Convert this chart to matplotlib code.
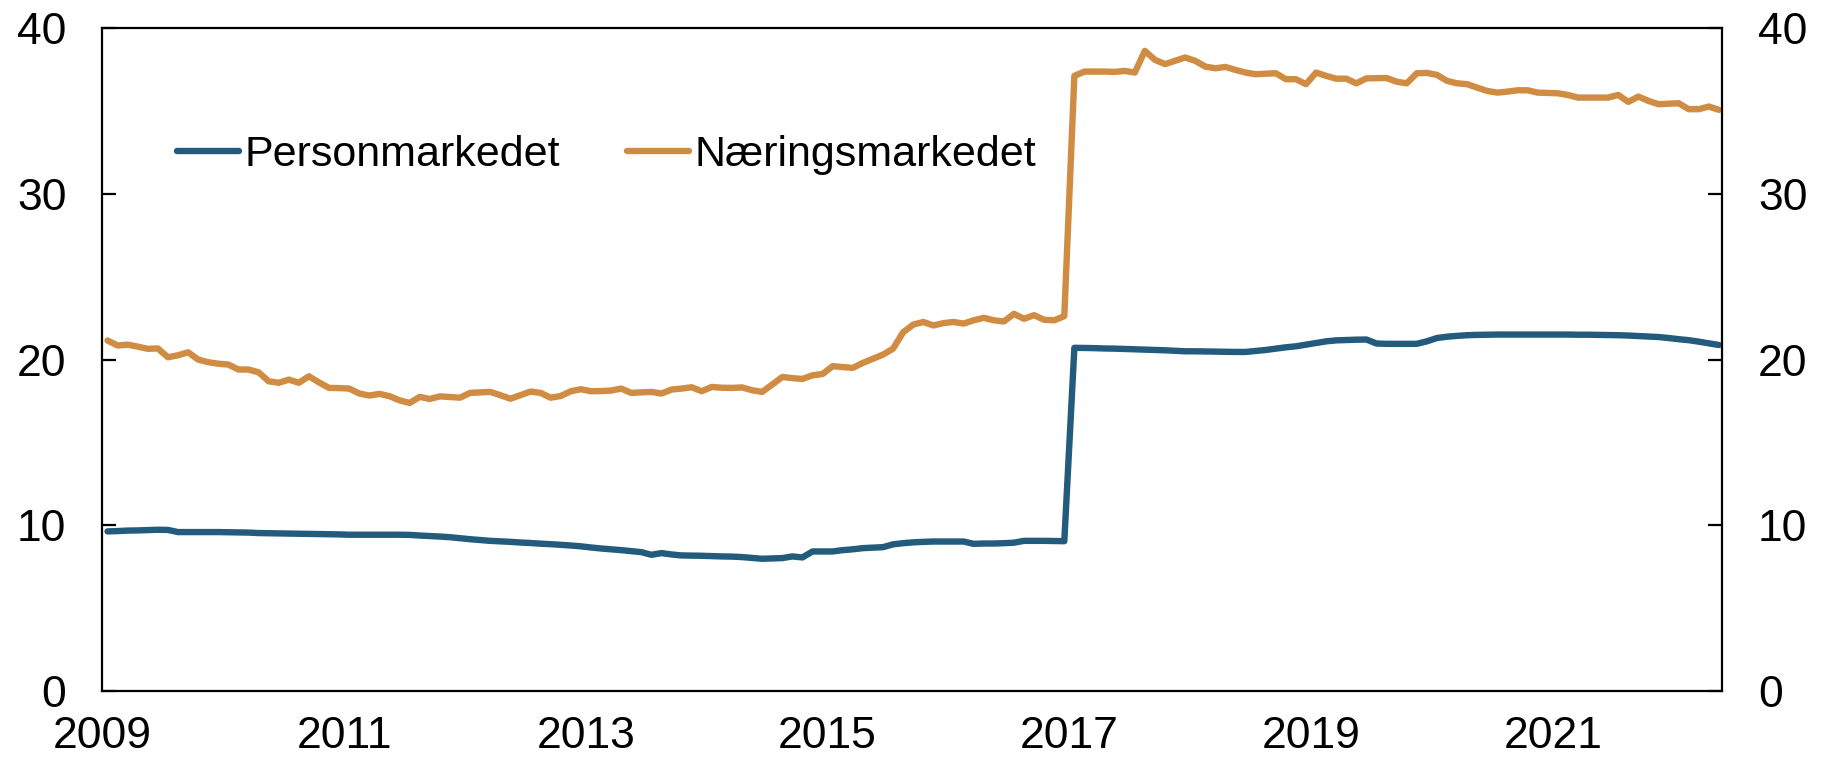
# plot.py
#
# Share of lending (percent), monthly 2009 - May 2022:
#   - Personmarkedet  (blue)
#   - Næringsmarkedet (orange)
# Same scale on left and right y-axis. Saves out.png.

import numpy as np
import matplotlib.pyplot as plt

START_YEAR = 2009

# Monthly values, Jan 2009 .. May 2022
personmarkedet = [
    9.63, 9.65, 9.68, 9.69, 9.71, 9.73, 9.72, 9.59, 9.59, 9.59, 9.59, 9.59,  # 2009
    9.58, 9.57, 9.56, 9.53, 9.52, 9.51, 9.50, 9.49, 9.48, 9.47, 9.46, 9.45,  # 2010
    9.43, 9.43, 9.43, 9.43, 9.43, 9.43, 9.42, 9.38, 9.35, 9.32, 9.28, 9.22,  # 2011
    9.16, 9.11, 9.06, 9.03, 9.00, 8.96, 8.93, 8.89, 8.86, 8.82, 8.78, 8.73,  # 2012
    8.66, 8.60, 8.55, 8.50, 8.44, 8.38, 8.22, 8.32, 8.24, 8.18, 8.17, 8.16,  # 2013
    8.14, 8.12, 8.11, 8.08, 8.03, 7.98, 8.00, 8.02, 8.12, 8.06, 8.42, 8.42,  # 2014
    8.42, 8.50, 8.55, 8.62, 8.65, 8.68, 8.85, 8.92, 8.97, 9.00, 9.02, 9.02,  # 2015
    9.02, 9.02, 8.88, 8.90, 8.90, 8.92, 8.95, 9.06, 9.06, 9.06, 9.05, 9.04,  # 2016
    20.71, 20.70, 20.69, 20.67, 20.66, 20.64, 20.62, 20.60, 20.58, 20.56, 20.53, 20.50,  # 2017
    20.50, 20.49, 20.48, 20.47, 20.46, 20.46, 20.52, 20.58, 20.66, 20.74, 20.80, 20.90,  # 2018
    21.00, 21.10, 21.16, 21.18, 21.20, 21.21, 20.97, 20.95, 20.95, 20.95, 20.95, 21.10,  # 2019
    21.30, 21.38, 21.43, 21.47, 21.49, 21.50, 21.51, 21.51, 21.51, 21.51, 21.51, 21.51,  # 2020
    21.51, 21.51, 21.50, 21.50, 21.49, 21.48, 21.47, 21.45, 21.42, 21.39, 21.36, 21.30,  # 2021
    21.23, 21.17, 21.08, 20.98, 20.88,  # 2022
]

naeringsmarkedet = [
    21.15, 20.85, 20.90, 20.78, 20.65, 20.67, 20.14, 20.26, 20.44, 20.00, 19.84, 19.75,  # 2009
    19.70, 19.40, 19.40, 19.23, 18.69, 18.60, 18.79, 18.60, 18.99, 18.62, 18.29, 18.28,  # 2010
    18.25, 17.95, 17.83, 17.93, 17.79, 17.54, 17.38, 17.75, 17.62, 17.78, 17.74, 17.70,  # 2011
    17.99, 18.02, 18.05, 17.85, 17.64, 17.85, 18.07, 17.99, 17.70, 17.80, 18.09, 18.21,  # 2012
    18.09, 18.10, 18.13, 18.25, 17.99, 18.02, 18.05, 17.95, 18.19, 18.25, 18.33, 18.09,  # 2013
    18.35, 18.30, 18.29, 18.32, 18.15, 18.05, 18.49, 18.95, 18.88, 18.83, 19.05, 19.13,  # 2014
    19.60, 19.55, 19.50, 19.80, 20.05, 20.30, 20.66, 21.65, 22.11, 22.27, 22.06, 22.20,  # 2015
    22.27, 22.17, 22.37, 22.52, 22.37, 22.30, 22.76, 22.46, 22.68, 22.40, 22.37, 22.62,  # 2016
    37.12, 37.38, 37.38, 37.38, 37.36, 37.42, 37.32, 38.63, 38.09, 37.83, 38.03, 38.23,  # 2017
    38.03, 37.68, 37.58, 37.66, 37.48, 37.32, 37.22, 37.25, 37.28, 36.92, 36.92, 36.62,  # 2018
    37.32, 37.12, 36.95, 36.95, 36.67, 36.97, 36.98, 36.99, 36.77, 36.67, 37.28, 37.30,  # 2019
    37.18, 36.82, 36.67, 36.62, 36.41, 36.21, 36.11, 36.17, 36.25, 36.25, 36.11, 36.09,  # 2020
    36.07, 35.97, 35.81, 35.81, 35.81, 35.81, 35.97, 35.55, 35.87, 35.61, 35.41, 35.44,  # 2021
    35.47, 35.11, 35.11, 35.27, 35.07,  # 2022
]

labels = ["Personmarkedet", "Næringsmarkedet"]
year_ticks = [2009, 2011, 2013, 2015, 2017, 2019, 2021]
value_ticks = [0, 10, 20, 30, 40]

BLUE = "#225b7c"
ORANGE = "#d08c42"


def main():
    plt.rcParams["font.family"] = ["Liberation Sans", "DejaVu Sans"]
    plt.rcParams["font.size"] = 32

    # mid-month positions in decimal years
    x = START_YEAR + (np.arange(len(personmarkedet)) + 0.5) / 12.0

    fig = plt.figure(figsize=(18.27, 7.61), dpi=100)
    ax = fig.add_axes([0.0561, 0.092, 0.8864, 0.871])

    line_kw = dict(linewidth=4.6, solid_capstyle="round", solid_joinstyle="round")
    ax.plot(x, personmarkedet, color=BLUE, label=labels[0], **line_kw)
    ax.plot(x, naeringsmarkedet, color=ORANGE, label=labels[1], **line_kw)

    ax.set_xlim(2009, 2022.4)
    ax.set_ylim(0, 40)
    ax.set_xticks(year_ticks)
    ax.set_xticklabels([str(y) for y in year_ticks])
    ax.set_yticks(value_ticks)

    for spine in ax.spines.values():
        spine.set_linewidth(1.6)
        spine.set_color("black")

    ax.tick_params(axis="x", length=0, pad=18)
    ax.tick_params(axis="y", direction="in", length=10, width=1.6,
                   left=True, right=True, labelleft=True, labelright=True, pad=26)

    ax.legend(
        loc="center left",
        bbox_to_anchor=(0.046, 0.808),
        ncol=2,
        frameon=False,
        borderpad=0,
        borderaxespad=0,
        handlelength=1.45,
        handletextpad=0.12,
        columnspacing=1.55,
        fontsize=31,
    )

    fig.savefig("out.png", dpi=100)
    plt.close(fig)


if __name__ == "__main__":
    main()
